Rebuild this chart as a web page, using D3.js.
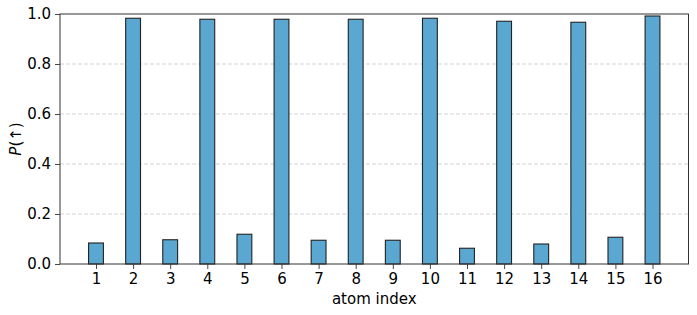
<!DOCTYPE html>
<html>
<head>
<meta charset="utf-8">
<script src="https://cdn.jsdelivr.net/npm/d3@7"></script>
<style>
  html, body { margin: 0; padding: 0; background: #fff; }
  svg { display: block; }
  text { font-family: "DejaVu Sans", sans-serif; fill: #000; }
</style>
</head>
<body>
<svg id="chart" width="697" height="315"></svg>
<script>
const atomIndex = [1, 2, 3, 4, 5, 6, 7, 8, 9, 10, 11, 12, 13, 14, 15, 16];
const probUp = [0.084, 0.983, 0.097, 0.979, 0.119, 0.979, 0.095, 0.979, 0.095, 0.983, 0.063, 0.971, 0.080, 0.967, 0.107, 0.992];
const yTicks = [0.0, 0.2, 0.4, 0.6, 0.8, 1.0];
const xLabel = "atom index";

const W = 697, H = 315;
const m = { left: 60, right: 8.5, top: 14, bottom: 51 };
const pw = W - m.left - m.right, ph = H - m.top - m.bottom;
const barW = 0.4;
const fs = "15px";

const svg = d3.select("#chart");
const g = svg.append("g").attr("transform", `translate(${m.left},${m.top})`);

const x = d3.scaleLinear().domain([0.03, 16.97]).range([0, pw]);
const y = d3.scaleLinear().domain([0, 1]).range([ph, 0]);

// grid
g.append("g").selectAll("line").data(yTicks.filter(d => d > 0 && d < 1)).join("line")
  .attr("x1", 0).attr("x2", pw)
  .attr("y1", d => y(d)).attr("y2", d => y(d))
  .attr("stroke", "#c8c8c8").attr("stroke-width", 0.8)
  .attr("stroke-dasharray", "4,2");

// bars
g.append("g").selectAll("rect").data(atomIndex).join("rect")
  .attr("x", (d) => x(d - barW / 2))
  .attr("width", (d) => x(d + barW / 2) - x(d - barW / 2))
  .attr("y", (d, i) => y(probUp[i]))
  .attr("height", (d, i) => y(0) - y(probUp[i]))
  .attr("fill", "#5aa8d1")
  .attr("stroke", "#222")
  .attr("stroke-width", 1.1);

// axes
const yAxis = d3.axisLeft(y).tickValues(yTicks).tickFormat(d3.format(".1f")).tickSize(5).tickPadding(4);
const xAxis = d3.axisBottom(x).tickValues(atomIndex).tickFormat(d3.format("d")).tickSize(5).tickPadding(4);

const ya = g.append("g").call(yAxis);
const xa = g.append("g").attr("transform", `translate(0,${ph})`).call(xAxis);
[ya, xa].forEach(a => {
  a.select(".domain").remove();
  a.selectAll(".tick line").attr("stroke", "#333").attr("stroke-width", 0.9);
  a.selectAll(".tick text").attr("font-size", fs).attr("font-family", "DejaVu Sans, sans-serif").attr("fill", "#000");
});

// frame
g.append("rect").attr("x", 0).attr("y", 0).attr("width", pw).attr("height", ph)
  .attr("fill", "none").attr("stroke", "#333").attr("stroke-width", 1);

// labels
svg.append("text")
  .attr("x", m.left + pw / 2).attr("y", 304)
  .attr("text-anchor", "middle").attr("font-size", fs)
  .text(xLabel);

const yl = svg.append("text")
  .attr("transform", `translate(21,${m.top + ph / 2}) rotate(-90)`)
  .attr("text-anchor", "middle").attr("font-size", fs);
yl.append("tspan").attr("font-style", "italic").text("P");
yl.append("tspan").text("(↑)");
</script>
</body>
</html>
